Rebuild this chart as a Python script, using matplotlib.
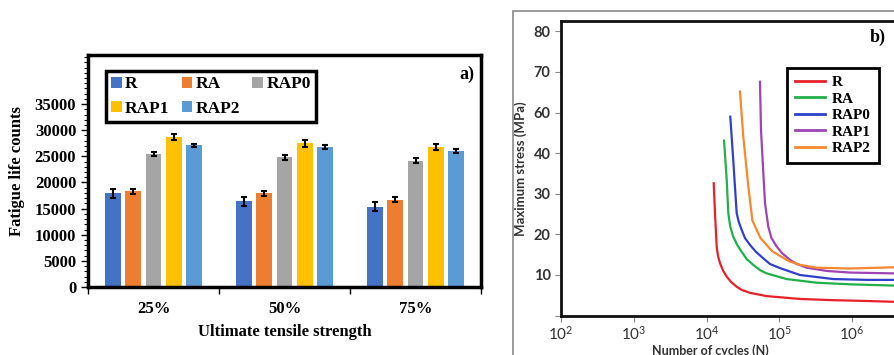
import numpy as np
import matplotlib
matplotlib.use("Agg")
import matplotlib.pyplot as plt
from matplotlib.patches import Rectangle
from matplotlib.ticker import MultipleLocator, FixedLocator, FuncFormatter

# ---------------- data: panel a ----------------
categories = ["25%", "50%", "75%"]
series_names = ["R", "RA", "RAP0", "RAP1", "RAP2"]
R_vals = [17900, 16400, 15400]
RA_vals = [18300, 17900, 16700]
RAP0_vals = [25400, 24800, 24200]
RAP1_vals = [28700, 27500, 26800]
RAP2_vals = [27100, 26800, 26100]
R_err = [800, 900, 800]
RA_err = [500, 400, 500]
RAP0_err = [400, 400, 400]
RAP1_err = [600, 700, 600]
RAP2_err = [300, 300, 400]
bar_colors = ["#4472C4", "#ED7D31", "#A5A5A5", "#FFC000", "#5B9BD5"]

# ---------------- data: panel b ----------------
R_N = [12560, 13090, 13800, 14390, 15350, 16870, 18970, 21730, 26000, 30760, 39630, 67140,
       192800, 553400, 1592000, 3698000]
R_S = [32.6, 25.2, 17.0, 14.7, 12.9, 11.1, 9.6, 8.3, 7.1, 6.3, 5.6, 4.8,
       4.1, 3.8, 3.6, 3.4]
RA_N = [17420, 18970, 19950, 21230, 23330, 26490, 30480, 35730, 43950, 54330, 67140,
        126500, 327300, 939700, 3698000]
RA_S = [46.2, 33.4, 25.2, 21.9, 19.4, 17.4, 15.7, 13.9, 12.5, 11.2, 10.4,
        9.0, 8.1, 7.7, 7.4]
RAP0_N = [21230, 23330, 24270, 26000, 27730, 30480, 33800, 39630, 47860, 60390, 74650,
          102300, 192800, 553400, 1592000, 3698000]
RAP0_S = [58.0, 38.3, 33.4, 25.2, 23.1, 21.1, 19.1, 17.4, 15.7, 14.1, 12.7,
          11.7, 10.0, 9.0, 8.8, 8.8]
RAP1_N = [54330, 56100, 63680, 70630, 78160, 92260, 109100, 140600, 175400, 238200,
          448700, 939700, 3698000]
RAP1_S = [67.6, 51.4, 27.7, 21.9, 19.1, 17.0, 15.4, 13.7, 12.7, 11.8,
          11.0, 10.6, 10.4]
RAP2_N = [28840, 32060, 37580, 42660, 48980, 55210, 67140, 79430, 102300, 136100, 192800,
          327300, 939700, 3698000]
RAP2_S = [65.2, 48.1, 31.8, 23.5, 21.1, 19.1, 17.4, 15.9, 14.7, 13.4, 12.5,
          11.8, 11.6, 11.9]
line_colors = ["#E8202A", "#22B04A", "#3040C8", "#9E44B5", "#F7882F"]
stress_ticks = [0, 10, 20, 30, 40, 60, 70, 80]
cycle_ticks = [1e2, 1e3, 1e4, 1e5, 1e6]

plt.rcParams['mathtext.fontset'] = 'custom'
plt.rcParams['mathtext.rm'] = 'Lato'
plt.rcParams['mathtext.bf'] = 'Lato:bold'

W, H = 895, 355
fig = plt.figure(figsize=(W / 100, H / 100), dpi=100)

def fx(px):
    return px / W

def fy(py):
    return 1 - py / H

serif = "Liberation Serif"

# ---------------- panel a ----------------
axa = fig.add_axes([fx(88), fy(287), fx(481) - fx(88), fy(55) - fy(287)])
vals = [R_vals, RA_vals, RAP0_vals, RAP1_vals, RAP2_vals]
errs = [R_err, RA_err, RAP0_err, RAP1_err, RAP2_err]
x = np.arange(len(categories))
step = 0.155
bw = 0.122
handles = []
for i, (v, e, c, n) in enumerate(zip(vals, errs, bar_colors, series_names)):
    b = axa.bar(x + (i - 2) * step, v, width=bw, color=c, label=n,
                yerr=e, capsize=2.5,
                error_kw=dict(ecolor="black", elinewidth=1.5, capthick=1.5))
    handles.append(b)
axa.set_xlim(-0.5, 2.5)
axa.set_ylim(0, 44400)
axa.set_yticks(np.arange(0, 35001, 5000))
axa.yaxis.set_minor_locator(MultipleLocator(1000))
axa.set_xticks([-0.5, 0.5, 1.5, 2.5])
axa.set_xticklabels([])
axa.xaxis.set_minor_locator(FixedLocator(x))
axa.xaxis.set_minor_formatter(FuncFormatter(lambda v, p: categories[int(round(v))]))
axa.tick_params(axis="x", which="minor", length=0, pad=10)
axa.tick_params(axis="x", which="major", length=5, width=1, direction="out")
axa.tick_params(axis="y", which="major", length=5, width=1, direction="out")
axa.tick_params(axis="y", which="minor", length=3, width=0.8, direction="out")
for lab in axa.get_yticklabels() + axa.xaxis.get_minorticklabels():
    lab.set_fontfamily(serif)
    lab.set_fontweight("bold")
    lab.set_fontsize(12)
for s in axa.spines.values():
    s.set_linewidth(2.5)
    s.set_color("black")
axa.set_ylabel("Fatigue life counts", fontfamily=serif, fontweight="bold", fontsize=12)
axa.yaxis.set_label_coords(-0.16, 0.5)
axa.set_xlabel("Ultimate tensile strength", fontfamily=serif, fontweight="bold", fontsize=12)
axa.xaxis.set_label_coords(0.5, -0.16)
order = [0, 3, 1, 4, 2]
leg = axa.legend([handles[k] for k in order], [series_names[k] for k in order],
                 ncol=3, loc="upper left", bbox_to_anchor=(0.046, 0.931), borderaxespad=0,
                 prop=dict(family=serif, weight="bold", size=12.5),
                 fancybox=False, edgecolor="black", framealpha=1,
                 handlelength=0.6, handleheight=0.6, handletextpad=0.2,
                 columnspacing=0.7, labelspacing=0.5, borderpad=0.3)
leg.get_frame().set_linewidth(2.5)
axa.text(0.965, 0.915, "a)", transform=axa.transAxes, ha="center", va="center",
         fontfamily=serif, fontweight="bold", fontsize=13)

# ---------------- panel b ----------------
fig.patches.append(Rectangle((fx(513), -0.2), 0.6, fy(11) + 0.2, transform=fig.transFigure,
                             fill=False, edgecolor="#8a8a8a", linewidth=1.2))

def fwd(v):
    v = np.asarray(v, dtype=float)
    return np.where(v <= 40, v, np.where(v <= 60, 40 + (v - 40) / 2, v - 10))

def inv(p):
    p = np.asarray(p, dtype=float)
    return np.where(p <= 40, p, np.where(p <= 50, 40 + 2 * (p - 40), p + 10))

axb = fig.add_axes([fx(561), fy(315.6), 1.0 - fx(561), fy(21) - fy(315.6)])
axb.set_xscale("log")
axb.set_yscale("function", functions=(fwd, inv))
Ns = [R_N, RA_N, RAP0_N, RAP1_N, RAP2_N]
Ss = [R_S, RA_S, RAP0_S, RAP1_S, RAP2_S]
for n_, s_, c, name in zip(Ns, Ss, line_colors, series_names):
    axb.plot(n_, s_, color=c, linewidth=1.6, label=name, solid_joinstyle="round")
axb.set_xlim(1e2, 10 ** 6.591)
axb.set_ylim(0, 82.56)
axb.xaxis.set_major_locator(FixedLocator(cycle_ticks))
axb.xaxis.set_minor_locator(FixedLocator([]))
axb.xaxis.set_major_formatter(FuncFormatter(lambda v, p: r"$\mathrm{10^{%d}}$" % int(round(np.log10(v)))))
axb.yaxis.set_major_locator(FixedLocator(stress_ticks))
axb.yaxis.set_minor_locator(FixedLocator([]))
axb.yaxis.set_major_formatter(FuncFormatter(lambda v, p: "" if v == 0 else "%d" % v))
axb.tick_params(axis="both", length=4, width=0.8, color="#888888", labelcolor="#333333",
                labelsize=10.5, direction="out")
axb.tick_params(axis="x", pad=2.5)
for lab in axb.get_yticklabels():
    lab.set_fontfamily("Lato")
    lab.set_fontweight("bold")
for lab in axb.get_xticklabels():
    lab.set_fontsize(11)
for s in axb.spines.values():
    s.set_linewidth(2)
    s.set_color("#111111")
axb.set_ylabel("Maximum stress (MPa)", fontfamily="Lato", fontweight="bold", fontsize=9.5,
               color="#333333")
axb.yaxis.set_label_coords(-0.102, 0.5)
axb.set_xlabel("Number of cycles (N)", fontfamily="Lato", fontweight="bold", fontsize=9,
               color="#333333")
axb.xaxis.set_label_coords(0.446, -0.096)
legb = axb.legend(loc="upper left", bbox_to_anchor=(0.677, 0.8405), borderaxespad=0,
                  prop=dict(family=serif, weight="bold", size=11),
                  fancybox=False, edgecolor="black", framealpha=1,
                  handlelength=2.0, handletextpad=0.45, labelspacing=0.18, borderpad=0.5)
legb.get_frame().set_linewidth(2)
for h in legb.get_lines():
    h.set_linewidth(2)
axb.text(0.949, 0.946, "b)", transform=axb.transAxes, ha="center", va="center",
         fontfamily=serif, fontweight="bold", fontsize=13)

fig.savefig("out.png", dpi=100)
